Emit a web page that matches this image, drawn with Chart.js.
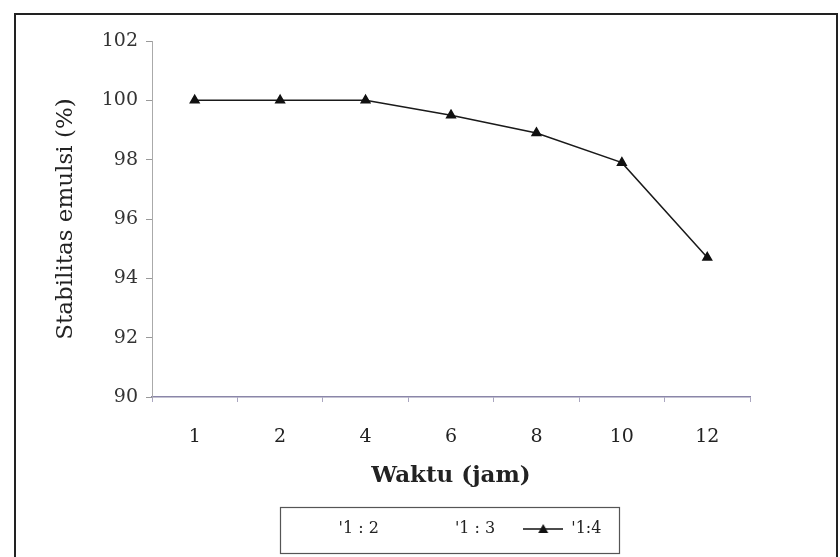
<!DOCTYPE html>
<html>
<head>
<meta charset="utf-8">
<script src="https://cdn.jsdelivr.net/npm/chart.js@4.4.1/dist/chart.umd.min.js"></script>
<style>
  html, body { margin: 0; background: #fff; }
  #wrap { width: 840px; height: 557px; }
</style>
</head>
<body>
<div id="wrap"><canvas id="grafik"></canvas></div>
<script>
// data
var waktu = ['1', '2', '4', '6', '8', '10', '12']
var rasio12 = [null, null, null, null, null, null, null]
var rasio13 = [null, null, null, null, null, null, null]
var rasio14 = [100, 100, 100, 99.5, 98.9, 97.9, 94.7]
var namaSeri = ["'1 : 2", "'1 : 3", "'1:4"]
var sumbuY = { min: 90, max: 102, step: 2 }

var fontSerif = '"DejaVu Serif", "Liberation Serif", serif'

// legend symbol: line with a triangle in the middle
function buatSimbol(kosong) {
    var c = document.createElement('canvas')
    c.width = 40
    c.height = 12
    if (kosong) return c
    var g = c.getContext('2d')
    g.strokeStyle = '#111'
    g.lineWidth = 1.5
    g.beginPath(); g.moveTo(0, 6); g.lineTo(40, 6); g.stroke()
    g.fillStyle = '#111'
    g.beginPath(); g.moveTo(20, 1); g.lineTo(25, 10); g.lineTo(15, 10); g.closePath(); g.fill()
    return c
}
var simbol = [buatSimbol(true), buatSimbol(true), buatSimbol(false)]

// frame round the whole chart + box round the legend
var bingkai = {
    id: 'bingkai',
    afterDraw: function (chart) {
        var ctx = chart.ctx
        ctx.save()
        ctx.strokeStyle = '#222'
        ctx.lineWidth = 2
        ctx.strokeRect(15, 14, 822, 620)
        var hb = chart.legend.legendHitBoxes
        if (hb && hb.length) {
            var x0 = Math.min.apply(null, hb.map(function (h) { return h.left }))
            var x1 = Math.max.apply(null, hb.map(function (h) { return h.left + h.width }))
            var y0 = hb[0].top
            ctx.strokeStyle = '#555'
            ctx.lineWidth = 1.2
            ctx.strokeRect(Math.round(x0) - 10.5, Math.round(y0) - 13.5, Math.round(x1 - x0) + 28, 46)
        }
        ctx.restore()
    }
}

var ctx = document.getElementById('grafik')
var grafik = new Chart(ctx, {
    type: 'line',
    data: {
        labels: waktu,
        datasets: [
            { label: namaSeri[0], data: rasio12, borderColor: 'transparent', pointRadius: 0 },
            { label: namaSeri[1], data: rasio13, borderColor: 'transparent', pointRadius: 0 },
            {
                label: namaSeri[2],
                data: rasio14,
                borderColor: '#1a1a1a',
                borderWidth: 1.5,
                tension: 0,
                pointStyle: 'triangle',
                pointRadius: 5,
                pointBackgroundColor: '#111',
                pointBorderColor: '#111'
            }
        ]
    },
    options: {
        responsive: true,
        maintainAspectRatio: false,
        animation: false,
        layout: { padding: { left: 52, top: 41, right: 0, bottom: 10 } },
        plugins: {
            tooltip: { enabled: false },
            legend: {
                position: 'bottom',
                labels: {
                    usePointStyle: true,
                    pointStyleWidth: 40,
                    padding: 28,
                    color: '#222',
                    font: { family: fontSerif, size: 16 },
                    generateLabels: function (chart) {
                        var items = Chart.defaults.plugins.legend.labels.generateLabels(chart)
                        items.forEach(function (it, i) { it.pointStyle = simbol[i] })
                        return items
                    }
                }
            }
        },
        scales: {
            x: {
                offset: true,
                grid: { display: true, drawOnChartArea: false, offset: true, tickLength: 5, color: '#aaa6c0' },
                border: { color: '#8a86a8', width: 1.5 },
                ticks: { color: '#222', padding: 24, font: { family: fontSerif, size: 19 } },
                title: {
                    display: true,
                    text: 'Waktu (jam)',
                    color: '#222',
                    padding: { top: 6, bottom: 3 },
                    font: { family: fontSerif, size: 23, weight: 'bold' }
                },
                afterFit: function (s) { s.height = 96 }
            },
            y: {
                min: sumbuY.min,
                max: sumbuY.max,
                ticks: { stepSize: sumbuY.step, color: '#333', padding: 8, font: { family: fontSerif, size: 19 } },
                grid: { display: true, drawOnChartArea: false, tickLength: 6, color: '#999' },
                border: { color: '#aaa', width: 1 },
                title: {
                    display: true,
                    text: 'Stabilitas emulsi (%)',
                    color: '#222',
                    padding: { top: 0, bottom: 10 },
                    font: { family: fontSerif, size: 23 }
                },
                afterFit: function (s) { s.width = 100 }
            },
            kanan: {
                type: 'linear',
                position: 'right',
                ticks: { display: false },
                grid: { display: false },
                border: { display: false },
                afterFit: function (s) { s.width = 90 }
            }
        }
    },
    plugins: [bingkai]
})
</script>
</body>
</html>
